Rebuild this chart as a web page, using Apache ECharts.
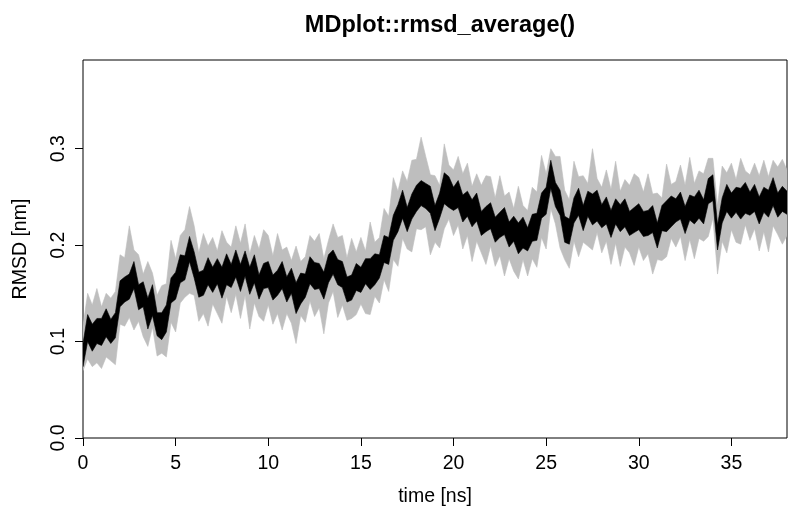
<!DOCTYPE html>
<html>
<head>
<meta charset="utf-8">
<script src="https://cdn.jsdelivr.net/npm/echarts@6/dist/echarts.min.js"></script>
<style>html,body{margin:0;padding:0;background:#fff}#c{width:800px;height:527px}</style>
</head>
<body>
<div id="c"></div>
<script>
// sampling interval of the series (ns)
const timeStep = 0.25;
const xTicks = [0, 5, 10, 15, 20, 25, 30, 35];
const yTicks = [0.0, 0.1, 0.2, 0.3];
const yTickLabels = ["0.0", "0.1", "0.2", "0.3"];

// upper / lower envelope of the black (average) trace, one row = 2 ns
const blackHi = [
0.098,0.128,0.118,0.124,0.124,0.134,0.123,0.130,
0.163,0.167,0.170,0.183,0.159,0.162,0.145,0.159,
0.130,0.130,0.138,0.166,0.172,0.190,0.189,0.209,
0.193,0.172,0.174,0.187,0.177,0.186,0.177,0.191,
0.180,0.195,0.180,0.194,0.177,0.190,0.169,0.181,
0.183,0.169,0.174,0.183,0.167,0.176,0.161,0.171,
0.170,0.188,0.182,0.181,0.172,0.190,0.195,0.185,
0.183,0.167,0.169,0.181,0.177,0.186,0.186,0.191,
0.190,0.210,0.208,0.231,0.242,0.257,0.239,0.253,
0.262,0.267,0.264,0.261,0.241,0.254,0.275,0.271,
0.260,0.267,0.252,0.256,0.247,0.254,0.235,0.240,
0.244,0.229,0.234,0.239,0.224,0.230,0.223,0.229,
0.218,0.232,0.233,0.254,0.260,0.288,0.265,0.257,
0.230,0.227,0.249,0.259,0.241,0.256,0.253,0.257,
0.242,0.250,0.236,0.248,0.242,0.248,0.235,0.239,
0.243,0.235,0.236,0.241,0.223,0.241,0.246,0.251,
0.248,0.255,0.240,0.252,0.250,0.257,0.247,0.269,
0.273,0.221,0.249,0.263,0.254,0.260,0.259,0.265,
0.255,0.263,0.250,0.260,0.257,0.270,0.254,0.261,
0.256];
const blackLo = [
0.074,0.100,0.090,0.098,0.096,0.105,0.098,0.104,
0.136,0.141,0.144,0.155,0.133,0.136,0.113,0.127,
0.106,0.102,0.110,0.140,0.144,0.161,0.164,0.183,
0.166,0.146,0.148,0.159,0.151,0.160,0.145,0.159,
0.156,0.167,0.152,0.168,0.149,0.161,0.144,0.155,
0.156,0.143,0.148,0.155,0.141,0.150,0.129,0.139,
0.146,0.160,0.154,0.155,0.144,0.161,0.170,0.159,
0.156,0.141,0.143,0.153,0.151,0.160,0.154,0.159,
0.166,0.182,0.180,0.205,0.214,0.228,0.214,0.227,
0.235,0.241,0.238,0.233,0.215,0.228,0.243,0.239,
0.236,0.239,0.224,0.230,0.219,0.225,0.210,0.214,
0.217,0.203,0.208,0.211,0.198,0.204,0.191,0.197,
0.194,0.204,0.205,0.228,0.232,0.259,0.240,0.231,
0.203,0.201,0.223,0.231,0.215,0.230,0.221,0.225,
0.218,0.222,0.208,0.222,0.214,0.219,0.210,0.213,
0.216,0.209,0.210,0.213,0.197,0.215,0.214,0.219,
0.224,0.227,0.212,0.226,0.222,0.228,0.222,0.243,
0.246,0.195,0.223,0.235,0.228,0.234,0.227,0.233,
0.231,0.235,0.222,0.234,0.229,0.241,0.229,0.235,
0.232];
// upper / lower envelope of the grey spread, one row = 2 ns
const greyHi = [
0.116,0.150,0.138,0.155,0.136,0.150,0.145,0.152,
0.190,0.187,0.220,0.195,0.190,0.170,0.183,0.171,
0.148,0.158,0.160,0.205,0.186,0.210,0.216,0.240,
0.220,0.192,0.212,0.199,0.208,0.194,0.215,0.203,
0.198,0.220,0.202,0.222,0.191,0.210,0.196,0.216,
0.210,0.189,0.212,0.195,0.198,0.184,0.199,0.183,
0.188,0.210,0.204,0.212,0.186,0.205,0.222,0.208,
0.210,0.187,0.207,0.193,0.208,0.194,0.224,0.203,
0.208,0.238,0.230,0.270,0.256,0.277,0.266,0.288,
0.289,0.312,0.292,0.273,0.272,0.262,0.305,0.283,
0.278,0.292,0.274,0.285,0.261,0.274,0.262,0.272,
0.271,0.249,0.272,0.251,0.255,0.238,0.261,0.241,
0.236,0.260,0.255,0.293,0.274,0.300,0.292,0.292,
0.257,0.247,0.287,0.271,0.272,0.264,0.300,0.269,
0.260,0.278,0.258,0.287,0.256,0.268,0.262,0.274,
0.270,0.255,0.274,0.253,0.254,0.249,0.284,0.263,
0.266,0.283,0.262,0.291,0.264,0.277,0.274,0.290,
0.290,0.241,0.282,0.275,0.285,0.268,0.290,0.277,
0.273,0.285,0.272,0.288,0.271,0.288,0.281,0.289,
0.278];
const greyLo = [
0.070,0.082,0.074,0.078,0.072,0.084,0.080,0.076,
0.118,0.116,0.125,0.112,0.121,0.105,0.095,0.115,
0.085,0.088,0.084,0.120,0.110,0.140,0.146,0.150,
0.148,0.121,0.129,0.116,0.139,0.129,0.119,0.147,
0.130,0.149,0.124,0.148,0.113,0.140,0.126,0.121,
0.138,0.118,0.129,0.112,0.129,0.119,0.098,0.127,
0.120,0.142,0.126,0.135,0.108,0.140,0.152,0.125,
0.138,0.122,0.124,0.128,0.139,0.129,0.128,0.147,
0.140,0.164,0.152,0.185,0.178,0.207,0.196,0.193,
0.217,0.216,0.219,0.190,0.203,0.197,0.217,0.227,
0.210,0.221,0.196,0.210,0.183,0.204,0.192,0.180,
0.199,0.178,0.189,0.168,0.186,0.173,0.165,0.185,
0.168,0.186,0.177,0.208,0.196,0.238,0.222,0.197,
0.185,0.176,0.204,0.188,0.203,0.199,0.195,0.213,
0.192,0.204,0.180,0.202,0.178,0.198,0.192,0.179,
0.198,0.184,0.191,0.170,0.185,0.184,0.188,0.207,
0.198,0.209,0.184,0.206,0.186,0.207,0.204,0.209,
0.228,0.170,0.204,0.192,0.216,0.203,0.201,0.221,
0.205,0.217,0.194,0.214,0.193,0.220,0.211,0.201,
0.210];

const FONT = "'Liberation Sans', Arial, Helvetica, sans-serif";
const t = blackHi.map((_, i) => +(i * timeStep).toFixed(2));

function bandSeries(hi, lo, color) {
  return {
    type: 'custom', silent: true, clip: true,
    data: [[t[0], lo[0]]],
    renderItem: function (params, api) {
      const pts = [];
      for (let i = 0; i < hi.length; i++) pts.push(api.coord([t[i], hi[i]]));
      for (let i = lo.length - 1; i >= 0; i--) pts.push(api.coord([t[i], lo[i]]));
      return {type: 'polygon', shape: {points: pts}, style: {fill: color, stroke: color, lineWidth: 0.6}};
    }
  };
}

const chart = echarts.init(document.getElementById('c'), null, {renderer: 'canvas'});
chart.setOption({
  animation: false,
  backgroundColor: '#ffffff',
  title: {
    text: 'MDplot::rmsd_average()',
    left: 435, top: 9, textAlign: 'center',
    textStyle: {fontFamily: FONT, fontWeight: 'bold', fontSize: 23.5, color: '#000'}
  },
  grid: {left: 83, right: 13, top: 60, bottom: 89, show: true, borderColor: '#000', borderWidth: 1, backgroundColor: 'transparent'},
  xAxis: {
    type: 'value', min: 0, max: 38,
    name: 'time [ns]', nameLocation: 'middle', nameGap: 49,
    nameTextStyle: {fontFamily: FONT, fontSize: 19.5, color: '#000'},
    axisLine: {show: false},
    splitLine: {show: false},
    axisTick: {show: true, inside: false, length: 8, customValues: xTicks, lineStyle: {color: '#000', width: 1}},
    axisLabel: {customValues: xTicks, margin: 16, fontFamily: FONT, fontSize: 19.5, color: '#000'}
  },
  yAxis: {
    type: 'value', min: 0, max: 0.392,
    name: 'RMSD [nm]', nameLocation: 'middle', nameGap: 52, nameRotate: 90,
    nameTextStyle: {fontFamily: FONT, fontSize: 19.5, color: '#000'},
    axisLine: {show: false},
    splitLine: {show: false},
    axisTick: {show: true, inside: false, length: 8, customValues: yTicks, lineStyle: {color: '#000', width: 1}},
    axisLabel: {customValues: yTicks, rotate: 90, margin: 14, fontFamily: FONT, fontSize: 19.5, color: '#000',
      formatter: v => yTickLabels[yTicks.findIndex(k => Math.abs(k - v) < 1e-9)] ?? ''}
  },
  series: [
    bandSeries(greyHi, greyLo, '#BEBEBE'),
    bandSeries(blackHi, blackLo, '#000000')
  ]
});
</script>
</body>
</html>
